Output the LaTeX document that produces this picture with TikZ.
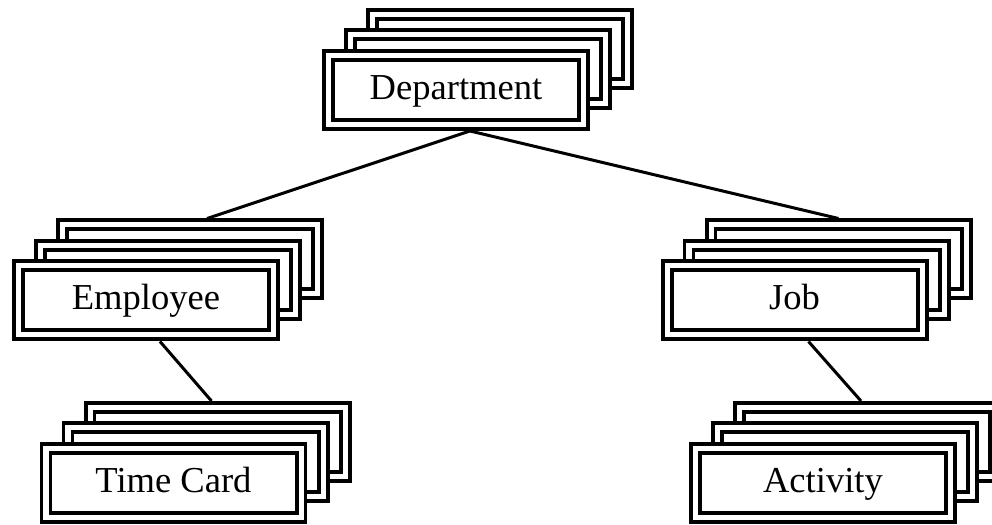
\documentclass[tikz,border=0pt]{standalone}
\usepackage{fontspec}
\setmainfont{Liberation Serif}
\usetikzlibrary{positioning,calc}

\begin{document}
\begin{tikzpicture}[every node/.style={font=\fontsize{10.4}{12}\selectfont,align=center},
  card/.style={draw,fill=white,line width=0.04cm,double,double distance=0.05cm,
    outer sep=0.065cm,minimum width=2.55cm,minimum height=0.69cm,inner sep=0pt,
    text height=1.6ex,text depth=0.45ex},
  link/.style={line width=0.03cm}]
  \useasboundingbox (0,0) rectangle (9.92,5.25);
  \clip (0,0) rectangle (9.92,5.25);
  % Department
  \node[card] (dept2) at (5.00,4.76) {};
  \node[card] (dept1) at (4.78,4.555) {};
  \node[card] (dept) at (4.56,4.35) {Department};
  % Employee
  \node[card] (emp2) at (1.90,2.655) {};
  \node[card] (emp1) at (1.68,2.45) {};
  \node[card] (emp) at (1.46,2.245) {Employee};
  % Job
  \node[card] (job2) at (8.385,2.655) {};
  \node[card] (job1) at (8.165,2.45) {};
  \node[card] (job) at (7.945,2.245) {Job};
  % Time Card
  \node[card] (time2) at (2.175,0.83) {};
  \node[card] (time1) at (1.955,0.625) {};
  \node[card] (time) at (1.735,0.42) {Time Card};
  % Activity
  \node[card] (act2) at (8.67,0.83) {};
  \node[card] (act1) at (8.45,0.625) {};
  \node[card] (act) at (8.23,0.42) {Activity};
  % links
  \draw[link] ([xshift=1.4mm]dept.south) -- ([xshift=1.7mm]emp2.north);
  \draw[link] ([xshift=1.4mm]dept.south) -- (job2.north);
  \draw[link] ([xshift=1.4mm]emp.south) -- ([xshift=-0.6mm]time2.north);
  \draw[link] ([xshift=1.4mm]job.south) -- ([xshift=-0.6mm]act2.north);
\end{tikzpicture}
\end{document}
